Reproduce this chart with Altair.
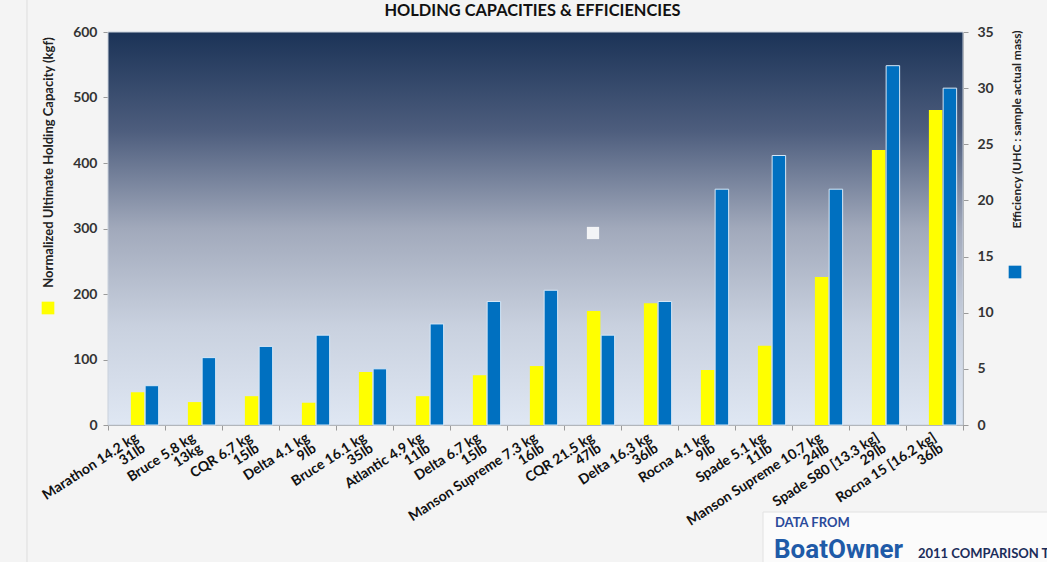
import altair as alt
import pandas as pd

categories = [
    "Marathon 14.2 kg\n31lb", "Bruce 5.8 kg\n13kg", "CQR 6.7 kg\n15lb", "Delta 4.1 kg\n9lb",
    "Bruce 16.1 kg\n35lb", "Atlantic 4.9 kg\n11lb", "Delta 6.7 kg\n15lb",
    "Manson Supreme 7.3 kg\n16lb", "CQR 21.5 kg\n47lb", "Delta 16.3 kg\n36lb",
    "Rocna 4.1 kg\n9lb", "Spade 5.1 kg\n11lb", "Manson Supreme 10.7 kg\n24lb",
    "Spade S80 [13.3 kg]\n29lb", "Rocna 15 [16.2 kg]\n36lb",
]
holding_kgf = [50, 35, 44, 34, 81, 44, 76, 90, 174, 186, 84, 121, 226, 420, 481]
efficiency = [3.5, 6.0, 7.0, 8.0, 5.0, 9.0, 11.0, 12.0, 8.0, 11.0, 21.0, 24.0, 21.0, 32.0, 30.0]

W, H = 855, 393
FONT = "Lato"

df_h = pd.DataFrame({"cat": categories, "v": holding_kgf, "s": "UHC"})
df_e = pd.DataFrame({"cat": categories, "v": efficiency, "s": "EFF"})
one = pd.DataFrame({"k": [0]})

x_axis = alt.Axis(
    title=None, labelAngle=-33, labelAlign="right", labelBaseline="middle",
    labelExpr="split(datum.label, '\\n')", labelFont=FONT, labelFontWeight="bold",
    labelFontSize=14, labelColor="#111111", labelLineHeight=13, labelPadding=6,
    tickBand="extent", tickColor="#9a9a9a", tickSize=5, domainColor="#9a9a9a",
    labelOverlap=False, labelLimit=300,
)
x_enc = alt.X("cat:N", sort=categories, axis=x_axis,
              scale=alt.Scale(paddingInner=0, paddingOuter=0))
xoff = alt.XOffset("s:N", sort=["UHC", "EFF"],
                   scale=alt.Scale(domain=["UHC", "EFF"], paddingInner=0, paddingOuter=1, align=0.79))

bg = alt.Chart(one).mark_rect(
    fill=alt.Gradient(
        gradient="linear", x1=0, x2=0, y1=0, y2=1,
        stops=[
            alt.GradientStop(offset=0, color="#1b3357"),
            alt.GradientStop(offset=0.25, color="#4d5d7d"),
            alt.GradientStop(offset=0.5, color="#a1a9bb"),
            alt.GradientStop(offset=0.75, color="#c9d1df"),
            alt.GradientStop(offset=1, color="#dfe7f3"),
        ],
    ),
    stroke="#c9d1dc", strokeWidth=1,
).encode(x=alt.value(0), x2=alt.value(W), y=alt.value(0), y2=alt.value(H))

yellow = alt.Chart(df_h).mark_bar(color="#ffff00", width=13.5).encode(
    x=x_enc, xOffset=xoff,
    y=alt.Y("v:Q", scale=alt.Scale(domain=[0, 600]),
            axis=alt.Axis(
                orient="left", values=[0, 100, 200, 300, 400, 500, 600], grid=False,
                title="Normalized Ultimate Holding Capacity (kgf)", titleAngle=270,
                titleX=-60, titleY=130, titleAlign="center", titleBaseline="middle",
                titleFont=FONT, titleFontSize=13, titleFontWeight="bold", titleColor="#222222",
                labelFont=FONT, labelFontSize=14, labelFontWeight="bold", labelColor="#333333",
                labelPadding=6, tickSize=5, tickColor="#9a9a9a", domainColor="#9a9a9a")),
)

blue = alt.Chart(df_e).mark_bar(color="#0070c0", stroke="#d5e7f7", strokeWidth=1, width=13.5).encode(
    x=x_enc, xOffset=xoff,
    y=alt.Y("v:Q", scale=alt.Scale(domain=[0, 35]),
            axis=alt.Axis(
                orient="right", values=[0, 5, 10, 15, 20, 25, 30, 35], grid=False,
                title="Efficiency (UHC : sample actual mass)", titleAngle=270,
                titleX=53, titleY=97, titleAlign="center", titleBaseline="middle",
                titleFont=FONT, titleFontSize=12, titleFontWeight="bold", titleColor="#222222",
                labelFont=FONT, labelFontSize=14, labelFontWeight="bold", labelColor="#333333",
                labelPadding=9, tickSize=5, tickColor="#9a9a9a", domainColor="#9a9a9a")),
)

title = alt.Chart(one).mark_text(
    text="HOLDING CAPACITIES & EFFICIENCIES", font=FONT, fontWeight="bold", fontSize=16.4,
    color="#111111", align="center", baseline="middle").encode(
    x=alt.value(W / 2 - 3), y=alt.value(-21))

leg_y = alt.Chart(one).mark_square(color="#ffff00", size=160, opacity=1).encode(
    x=alt.value(-60), y=alt.value(276))
leg_b = alt.Chart(one).mark_square(color="#0070c0", size=160, opacity=1).encode(
    x=alt.value(907), y=alt.value(240))
blip = alt.Chart(one).mark_square(color="#f3f4f6", size=150, opacity=1).encode(
    x=alt.value(485), y=alt.value(201))

left_rule = alt.Chart(one).mark_rule(color="#dddddd", strokeWidth=1).encode(
    x=alt.value(-81), y=alt.value(-32), y2=alt.value(530))

logo_box = alt.Chart(one).mark_rect(fill="#fbfbfb", stroke="#e2e2e2", strokeWidth=1).encode(
    x=alt.value(655), x2=alt.value(950), y=alt.value(480), y2=alt.value(540))
data_from = alt.Chart(one).mark_text(
    text="DATA FROM", font=FONT, fontWeight="bold", fontSize=13, color="#2a4a9a",
    align="left", baseline="alphabetic").encode(x=alt.value(667), y=alt.value(495))
boat = alt.Chart(one).mark_text(
    text="BoatOwner", font="Roboto", fontWeight="bold", fontSize=26,
    color="#1f5ba8", align="left", baseline="alphabetic").encode(x=alt.value(666), y=alt.value(526))
comp = alt.Chart(one).mark_text(
    text="2011 COMPARISON TEST", font=FONT, fontWeight="bold", fontSize=13, color="#1c2d5a",
    align="left", baseline="alphabetic").encode(x=alt.value(810), y=alt.value(526))

chart = alt.layer(
    bg, yellow, blue, title, leg_y, leg_b, blip, left_rule, logo_box, data_from, boat, comp
).resolve_scale(y="independent").properties(
    width=W, height=H,
    padding={"left": 108, "top": 32, "right": 84, "bottom": 137},
    autosize=alt.AutoSizeParams(type="none"),
    background="#f4f4f4",
).configure_view(stroke=None)

chart.save("out.html", embed_options={"renderer": "svg", "actions": False})
